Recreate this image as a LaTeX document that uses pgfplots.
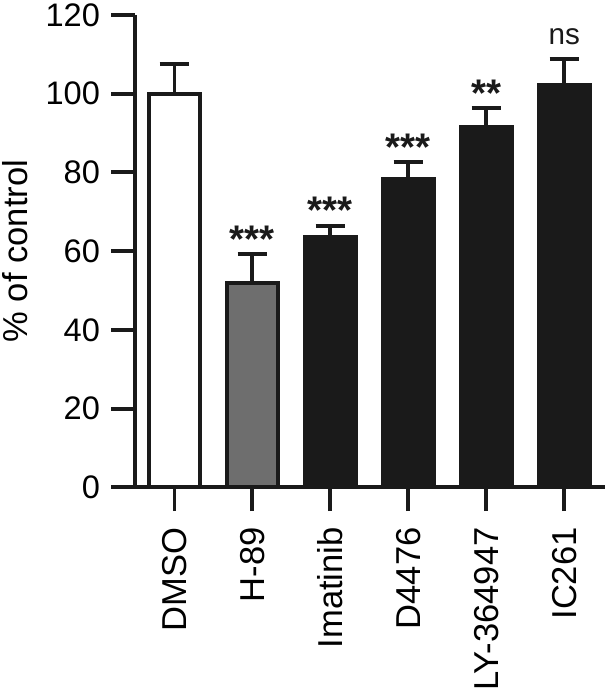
\documentclass[border=0pt]{standalone}
\usepackage{pgfplots}
\pgfplotsset{compat=1.18}
\usepackage{fontspec}
\setmainfont{Liberation Sans}
\definecolor{barblack}{HTML}{1A1A1A}
\definecolor{bargray}{HTML}{6E6E6E}
\pgfplotsset{
  myerr/.style={
    error bars/y dir=plus, error bars/y explicit,
    error bars/error bar style={line width=4pt, color=barblack, solid},
    error bars/error mark options={rotate=90, line width=4pt, mark size=15pt, color=barblack},
  },
  mybar/.style={ybar, bar width=52pt, bar shift=0pt, draw=barblack, line width=4pt, myerr},
}
\begin{document}
\begin{tikzpicture}
\begin{axis}[
  scale only axis, width=476pt, height=478.7pt,
  xmin=-0.506, xmax=5.52, ymin=0, ymax=120,
  axis x line=bottom, axis y line=left,
  axis line style={line width=4pt, color=barblack, -},
  ytick={0,20,...,120},
  xtick={0,...,5},
  xticklabels={DMSO,H-89,Imatinib,D4476,LY-364947,IC261},
  tick align=outside,
  major tick length=24pt,
  tick style={line width=4pt, color=barblack},
  xticklabel style={rotate=90, anchor=east, font=\fontsize{35}{40}\selectfont},
  yticklabel style={font=\fontsize{33}{38}\selectfont},
  xticklabel shift=13pt,
  yticklabel shift=8pt,
  /pgf/number format/assume math mode=true,
  ylabel={\% of control},
  ylabel style={at={(axis description cs:-0.2878,0.5)}, anchor=north, inner sep=2pt, font=\fontsize{35}{40}\selectfont},
  clip=false,
]
\addplot[mybar, fill=white] coordinates {(0,100) +- (0,7.5)};
\addplot[mybar, fill=bargray] coordinates {(1,52) +- (0,7.2)};
\addplot[mybar, fill=barblack] coordinates {
  (2,63.6) +- (0,2.8)
  (3,78.2) +- (0,4.4)
  (4,91.6) +- (0,4.7)
  (5,102.3) +- (0,6.4)
};
\addplot[draw=none, mark=none, nodes near coords, point meta=explicit symbolic,
  nodes near coords style={anchor=base, yshift=2pt, font=\fontsize{39}{44}\selectfont\bfseries, inner sep=0pt, text=barblack}]
  coordinates {(1,59.2)[***] (2,66.4)[***] (3,82.6)[***] (4,96.3)[**]};
\addplot[draw=none, mark=none, nodes near coords, point meta=explicit symbolic,
  nodes near coords style={anchor=base, yshift=15pt, inner sep=0pt, font=\fontsize{30}{34}\selectfont, text=barblack}]
  coordinates {(5,108.7)[ns]};
\end{axis}
\end{tikzpicture}
\end{document}
